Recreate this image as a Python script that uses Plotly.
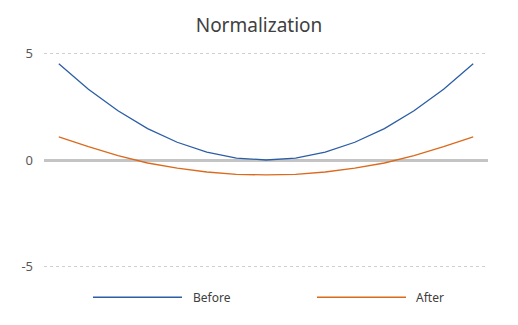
import plotly.graph_objects as go

categories = list(range(1, 16))
before = [4.5, 3.31, 2.3, 1.47, 0.83, 0.37, 0.09, 0.0, 0.09, 0.37, 0.83, 1.47, 2.3, 3.31, 4.5]
after = [1.08, 0.62, 0.21, -0.14, -0.38, -0.56, -0.67, -0.70, -0.67, -0.56, -0.38, -0.14, 0.21, 0.62, 1.08]
y_ticks = [-5, 0, 5]
series_names = ["Before", "After"]
colors = ["#2C5DA6", "#DA6A1E"]

fig = go.Figure()
for name, vals, col in zip(series_names, [before, after], colors):
    fig.add_trace(go.Scatter(x=categories, y=vals, mode="lines", name=name,
                             line=dict(color=col, width=1.3), showlegend=False))

top_px, bot_px = 52.2, 267.8
plot_h = bot_px - top_px
fig.update_layout(
    width=518, height=325,
    margin=dict(l=44, r=30, t=top_px, b=325 - bot_px),
    paper_bgcolor="white", plot_bgcolor="white",
    title=dict(text="Normalization", x=0.5, xanchor="center", y=1 - 25 / 325, yanchor="middle",
               font=dict(family="Noto Sans", size=19, color="#404040")),
    xaxis=dict(range=[0.5, 15.5], showticklabels=False, showgrid=False, zeroline=False,
               showline=False, ticks=""),
    yaxis=dict(range=[-5.05, 5.05], tickvals=y_ticks, ticktext=[str(v) for v in y_ticks],
               showgrid=True, gridcolor="#D0D0D0", griddash="dot", gridwidth=1,
               zeroline=True, zerolinecolor="#C4C4C4", zerolinewidth=3,
               tickfont=dict(family="Noto Sans", size=13, color="#595959"),
               ticks="", ticklabelstandoff=10, showline=False),
)

# manual legend
leg_y = -(297 - bot_px) / plot_h
legend_items = [(93, 182, 191), (317, 406, 414)]
for (x0, x1, tx), name, col in zip(legend_items, series_names, colors):
    fig.add_shape(type="line", xref="paper", yref="paper",
                  x0=(x0 - 44) / 444, x1=(x1 - 44) / 444, y0=leg_y, y1=leg_y,
                  line=dict(color=col, width=1.3))
    fig.add_annotation(xref="paper", yref="paper", x=(tx - 44) / 444, y=leg_y,
                       text=name, showarrow=False, xanchor="left", yanchor="middle",
                       font=dict(family="Noto Sans", size=12, color="#404040"))

fig.write_html("out.html")
